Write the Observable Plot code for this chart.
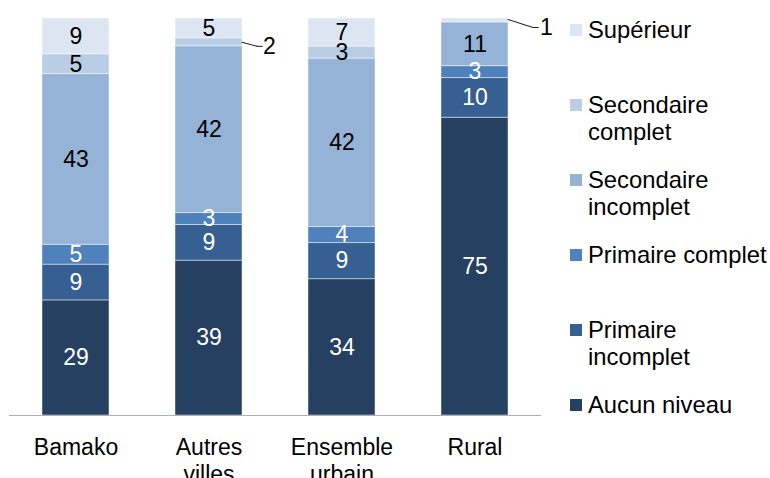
<!DOCTYPE html>
<html><head><meta charset="utf-8">
<script src="https://cdn.jsdelivr.net/npm/d3@7"></script>
<script src="https://cdn.jsdelivr.net/npm/@observablehq/plot@0.6"></script>
<style>
html,body{margin:0;padding:0;background:#fff;overflow:hidden;}
#wrap{position:relative;width:770px;height:478px;font-family:"Liberation Sans",Arial,sans-serif;}
#legend{position:absolute;left:570px;top:16px;}
.item{position:absolute;left:0;display:flex;align-items:flex-start;font-size:23.8px;line-height:27px;color:#000;white-space:nowrap;}
.sw{width:12px;height:12px;margin-top:8px;margin-right:6px;flex:none;}
</style></head><body><div id="wrap"><div id="chart"></div><div id="legend"></div></div>
<script>
const categories = ["Bamako", "Autres villes", "Ensemble urbain", "Rural"];
const categoryLabels = ["Bamako", "Autres\nvilles", "Ensemble\nurbain", "Rural"];
const levels = ["Aucun niveau", "Primaire incomplet", "Primaire complet", "Secondaire incomplet", "Secondaire complet", "Supérieur"];
const aucunNiveau = [29, 39, 34, 75];
const primaireIncomplet = [9, 9, 9, 10];
const primaireComplet = [5, 3, 4, 3];
const secondaireIncomplet = [43, 42, 42, 11];
const secondaireComplet = [5, 2, 3, null];
const superieur = [9, 5, 7, 1];
const colors = ["#254061", "#376092", "#4F81BD", "#95B3D7", "#B9CDE5", "#DCE6F2"];
const legendLabels = ["Aucun niveau", "Primaire<br>incomplet", "Primaire complet", "Secondaire<br>incomplet", "Secondaire<br>complet", "Supérieur"];

const series = [aucunNiveau, primaireIncomplet, primaireComplet, secondaireIncomplet, secondaireComplet, superieur];
const rows = [];
categories.forEach((cat, i) => {
  levels.forEach((level, j) => {
    const v = series[j][i];
    if (v != null) rows.push({cat, level, value: v});
  });
});

const isAutresOut = d => d.cat === "Autres villes" && d.level === "Secondaire complet";
const isRuralOut = d => d.cat === "Rural" && d.level === "Supérieur";
const isOut = d => isAutresOut(d) || isRuralOut(d);
const isDark = d => levels.indexOf(d.level) < 3;
const FONT = 23;
const st = (extra) => Plot.stackY({x: "cat", y: "value", offset: "normalize", ...extra});

const chart = Plot.plot({
  width: 770,
  height: 478,
  marginLeft: 9,
  marginRight: 229,
  marginTop: 18,
  marginBottom: 63,
  style: {fontFamily: "Liberation Sans, Arial, sans-serif", background: "transparent", overflow: "visible"},
  x: {domain: categories, paddingInner: 0.5, paddingOuter: 0.25},
  y: {domain: [0, 1], axis: null},
  color: {domain: levels, range: colors},
  marks: [
    Plot.barY(rows, st({fill: "level", stroke: "white", strokeOpacity: 0.45, strokeWidth: 1})),
    Plot.ruleY([0], {stroke: "#B0B0B0", strokeWidth: 1.2}),
    Plot.text(rows, Plot.filter(d => !isOut(d) && isDark(d), st({text: "value", fill: "white", fontSize: FONT}))),
    Plot.text(rows, Plot.filter(d => !isOut(d) && !isDark(d), st({text: "value", fill: "black", fontSize: FONT}))),
    // leader for Autres villes
    Plot.vector(rows, Plot.filter(isAutresOut, st({anchor: "start", length: 15.5, rotate: 105, r: 0, stroke: "#222", strokeWidth: 1, dx: 33}))),
    Plot.vector(rows, Plot.filter(isAutresOut, st({anchor: "start", length: 5, rotate: 90, r: 0, stroke: "#222", strokeWidth: 1, dx: 48, dy: 4}))),
    Plot.text(rows, Plot.filter(isAutresOut, st({text: "value", fill: "black", fontSize: FONT, textAnchor: "start", dx: 54, dy: 4}))),
    // leader for Rural
    Plot.vector(rows, Plot.filter(isRuralOut, st({anchor: "start", length: 26.2, rotate: 107.7, r: 0, stroke: "#222", strokeWidth: 1, dx: 33, dy: -1}))),
    Plot.vector(rows, Plot.filter(isRuralOut, st({anchor: "start", length: 5, rotate: 90, r: 0, stroke: "#222", strokeWidth: 1, dx: 58, dy: 7}))),
    Plot.text(rows, Plot.filter(isRuralOut, st({text: "value", fill: "black", fontSize: FONT, textAnchor: "start", dx: 65, dy: 7}))),
    Plot.axisX({tickSize: 0, tickPadding: 20, fontSize: FONT, fill: "#000", label: null,
      tickFormat: d => categoryLabels[categories.indexOf(d)], lineHeight: 1.17})
  ]
});
document.getElementById("chart").appendChild(chart);

const legend = document.getElementById("legend");
const order = levels.map((l, i) => i).reverse();
order.forEach((j, k) => {
  const item = document.createElement("div");
  item.className = "item";
  item.style.top = (75 * k) + "px";
  const sw = document.createElement("div");
  sw.className = "sw";
  sw.style.background = colors[j];
  const lab = document.createElement("div");
  lab.innerHTML = legendLabels[j];
  item.appendChild(sw);
  item.appendChild(lab);
  legend.appendChild(item);
});
</script></body></html>
